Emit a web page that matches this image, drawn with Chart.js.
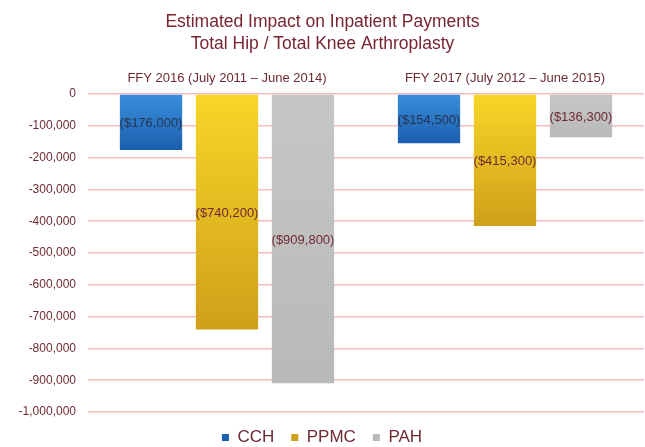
<!DOCTYPE html>
<html>
<head>
<meta charset="utf-8">
<script src="https://cdn.jsdelivr.net/npm/chart.js@4/dist/chart.umd.min.js"></script>
<style>
  html, body { margin: 0; padding: 0; background: #ffffff; }
  #wrap { width: 645px; height: 447px; position: relative; }
</style>
</head>
<body>
<div id="wrap"><canvas id="c" width="645" height="447"></canvas></div>
<script>
// ---- data ----
const titleLines = ["Estimated Impact on Inpatient Payments", "Total Hip / Total Knee Arthroplasty"];
const categories = ["FFY 2016 (July 2011 \u2013 June 2014)", "FFY 2017 (July 2012 \u2013 June 2015)"];
const seriesNames = ["CCH", "PPMC", "PAH"];
const cchValues = [-176000, -154500];
const ppmcValues = [-740200, -415300];
const pahValues = [-909800, -136300];
const cchLabels = ["($176,000)", "($154,500)"];
const ppmcLabels = ["($740,200)", "($415,300)"];
const pahLabels = ["($909,800)", "($136,300)"];
const yTickMin = -1000000;
const yTickMax = 0;
const yTickStep = 100000;

const FONT = "'Liberation Sans', Arial, sans-serif";
const MAROON = "#6e2a33";

function gradFill(top, bottom, solid) {
  return function (ctx) {
    if (ctx.type !== 'data') return solid;
    const chart = ctx.chart;
    const ys = chart.scales.y;
    if (!ys) return solid;
    const y0 = ys.getPixelForValue(0);
    const y1 = ys.getPixelForValue(ctx.parsed ? ctx.parsed.y : ctx.raw);
    if (!isFinite(y0) || !isFinite(y1) || y0 === y1) return solid;
    const g = chart.ctx.createLinearGradient(0, Math.min(y0, y1), 0, Math.max(y0, y1));
    g.addColorStop(0, top);
    g.addColorStop(1, bottom);
    return g;
  };
}

const titlePlugin = {
  id: 'customTitle',
  afterDraw(chart) {
    const c = chart.ctx;
    c.save();
    c.fillStyle = "#782431";
    c.font = "17.5px " + FONT;
    c.textAlign = "center";
    c.textBaseline = "middle";
    c.fillText(titleLines[0], chart.width / 2, 22);
    c.fillText(titleLines[1], chart.width / 2, 44);
    c.restore();
  }
};

const barLabelPlugin = {
  id: 'barLabels',
  afterDatasetsDraw(chart) {
    const c = chart.ctx;
    c.save();
    c.font = "13px " + FONT;
    c.textAlign = "center";
    c.textBaseline = "middle";
    chart.data.datasets.forEach((ds, di) => {
      const meta = chart.getDatasetMeta(di);
      meta.data.forEach((bar, i) => {
        const p = bar.getProps(['x', 'y', 'base'], true);
        c.fillStyle = ds.labelColor;
        c.fillText(ds.valueLabels[i], p.x, (p.y + p.base) / 2 + 1);
      });
    });
    c.restore();
  }
};

new Chart(document.getElementById('c'), {
  type: 'bar',
  data: {
    labels: categories,
    datasets: [
      { label: seriesNames[0], data: cchValues, valueLabels: cchLabels, labelColor: "#243453",
        backgroundColor: gradFill("#3a8fdc", "#1b5fae", "#2a78c8") },
      { label: seriesNames[1], data: ppmcValues, valueLabels: ppmcLabels, labelColor: MAROON,
        backgroundColor: gradFill("#f7d628", "#cfa01a", "#e8bd1f") },
      { label: seriesNames[2], data: pahValues, valueLabels: pahLabels, labelColor: MAROON,
        backgroundColor: gradFill("#c6c6c6", "#b9b9b9", "#bdbdbd") }
    ]
  },
  options: {
    responsive: false,
    animation: false,
    devicePixelRatio: 1,
    layout: { padding: { top: 62, left: 0, right: 1, bottom: -9 } },
    datasets: { bar: { barPercentage: 0.82, categoryPercentage: 0.82 } },
    scales: {
      x: {
        position: 'top',
        grid: { display: false, drawTicks: false },
        border: { display: false },
        ticks: { color: MAROON, font: { family: FONT, size: 13 }, padding: 8 },
        afterFit(scale) { scale.height = 32; }
      },
      y: {
        min: yTickMin,
        max: yTickMax,
        ticks: {
          stepSize: yTickStep,
          color: MAROON,
          font: { family: FONT, size: 12 },
          padding: 12,
          callback: (v) => v.toLocaleString('en-US')
        },
        grid: { color: "#f2bdbd", lineWidth: 1.5, drawTicks: false },
        border: { display: false },
        afterFit(scale) { scale.width = 88; }
      }
    },
    plugins: {
      title: { display: false },
      tooltip: { enabled: false },
      legend: {
        position: 'bottom',
        labels: {
          color: MAROON,
          font: { family: FONT, size: 17 },
          boxWidth: 7,
          boxHeight: 7,
          padding: 17
        }
      }
    }
  },
  plugins: [titlePlugin, barLabelPlugin]
});
</script>
</body>
</html>
